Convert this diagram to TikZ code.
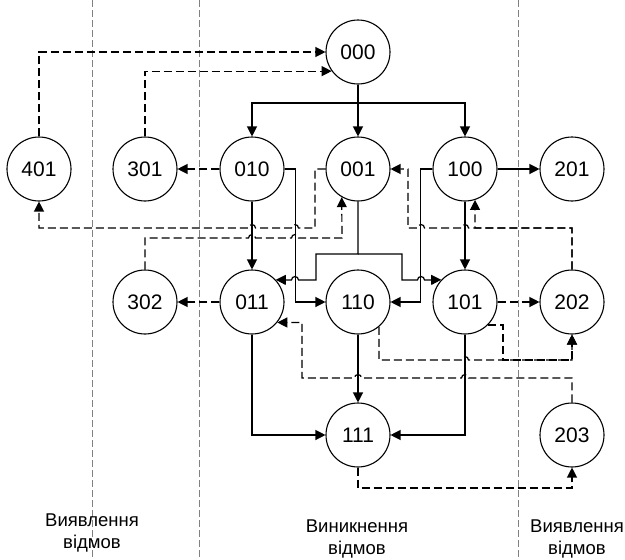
\documentclass[tikz,border=0pt]{standalone}
\usepackage{fontspec}
\setmainfont{Liberation Sans}
\usetikzlibrary{arrows.meta}

\begin{document}
\begin{tikzpicture}[x=1pt, y=-1pt, >={Triangle[length=10pt,width=10pt]},
        state/.style={circle, draw, line width=1.1pt, minimum size=64pt, inner sep=0pt, font=\fontsize{21}{25}\selectfont},
        link/.style={->, line width=1.2pt},
        fb/.style={->, line width=1.2pt, dash pattern=on 8pt off 4pt},
        zone/.style={gray, line width=0.8pt, dash pattern=on 7pt off 3pt},
        caption/.style={align=center, font=\fontsize{18.5}{22}\selectfont}]
        \useasboundingbox (0,0) rectangle (625,560);

        % Zone borders
        \foreach \x in {92,199,518} {
            \draw[zone] (\x,0) -- (\x,560);
        }

        % States
        \foreach \n/\x/\y in {000/358/52, 401/39/169, 301/145/169, 010/252/169, 001/358/169, 100/465/169, 201/572/169,
                              302/145/302, 011/252/302, 110/358/302, 101/465/302, 202/572/302, 111/358/435, 203/572/435} {
            \node[state] (s\n) at (\x,\y) {\n};
        }

        % Failures
        \coordinate (split) at (358,103);
        \coordinate (fork) at (358,254);
        \draw[link] (s000) -- (s001);
        \draw[link] (s000) -- (split) -| (s010);
        \draw[link] (split) -| (s100);
        \draw[link] (s010) -- (s011);
        \draw[link] (s010.east) -- ++(11,0) |- (s110);
        \draw[link] (s100.west) -- ++(-12,0) |- (s110);
        \draw[link] (s001) -- (fork) -| (316,280) -- (298.5,280) arc[start angle=0, end angle=-180, radius=3.5] -- (s011.43);
        \draw[link] (fork) -| (402,280) -- (417.5,280) arc[start angle=180, end angle=360, radius=3.5] -- (s101.137);
        \draw[link] (s100) -- (s101);
        \draw[link] (s100) -- (s201);
        \draw[link] (s011) |- (s111);
        \draw[link] (s110) -- (s111);
        \draw[link] (s101) |- (s111);

        % Detection
        \draw[fb] (s401) |- (s000);
        \draw[fb] (s301) |- (s000.216);
        \draw[fb] (s010) -- (s301);
        \draw[fb] (s011) -- (s302);
        \draw[fb] (s001.west) -| (315,228) -- (298.5,228) arc[start angle=0, end angle=-180, radius=3.5]
            -- (255.5,228) arc[start angle=0, end angle=-180, radius=3.5] -| (s401);
        \draw[fb] (s302) |- (248.5,238) arc[start angle=180, end angle=360, radius=3.5]
            -- (291.5,238) arc[start angle=180, end angle=360, radius=3.5] -- (342,238) -- (s001.240);
        \draw[fb] (s202) |- (475,228) -- (s100.288);
        \draw[fb] (s202) |- (468.5,228) arc[start angle=0, end angle=-180, radius=3.5]
            -- (424.5,228) arc[start angle=0, end angle=-180, radius=3.5] -- (408,228) |- (s001.east);
        \draw[fb] (s101) -- (s202);
        \draw[fb] (s110.-50) |- (461.5,360) arc[start angle=180, end angle=360, radius=3.5] -| (s202);
        \draw[fb] (s101.-45) -| (503,360) -| (s202);
        \draw[fb] (s203) |- (468.5,378) arc[start angle=0, end angle=-180, radius=3.5]
            -- (361.5,378) arc[start angle=0, end angle=-180, radius=3.5] -- (302,378) |- (s011.-39);
        \draw[fb] (s111) -- (358,488) -| (s203);

        % Zone captions
        \node[caption] (left) at (92,533) {Виявлення\\відмов};
        \node[caption] (mid) at (357,539) {Виникнення\\відмов};
        \node[caption] (right) at (577,539) {Виявлення\\відмов};
\end{tikzpicture}
\end{document}
